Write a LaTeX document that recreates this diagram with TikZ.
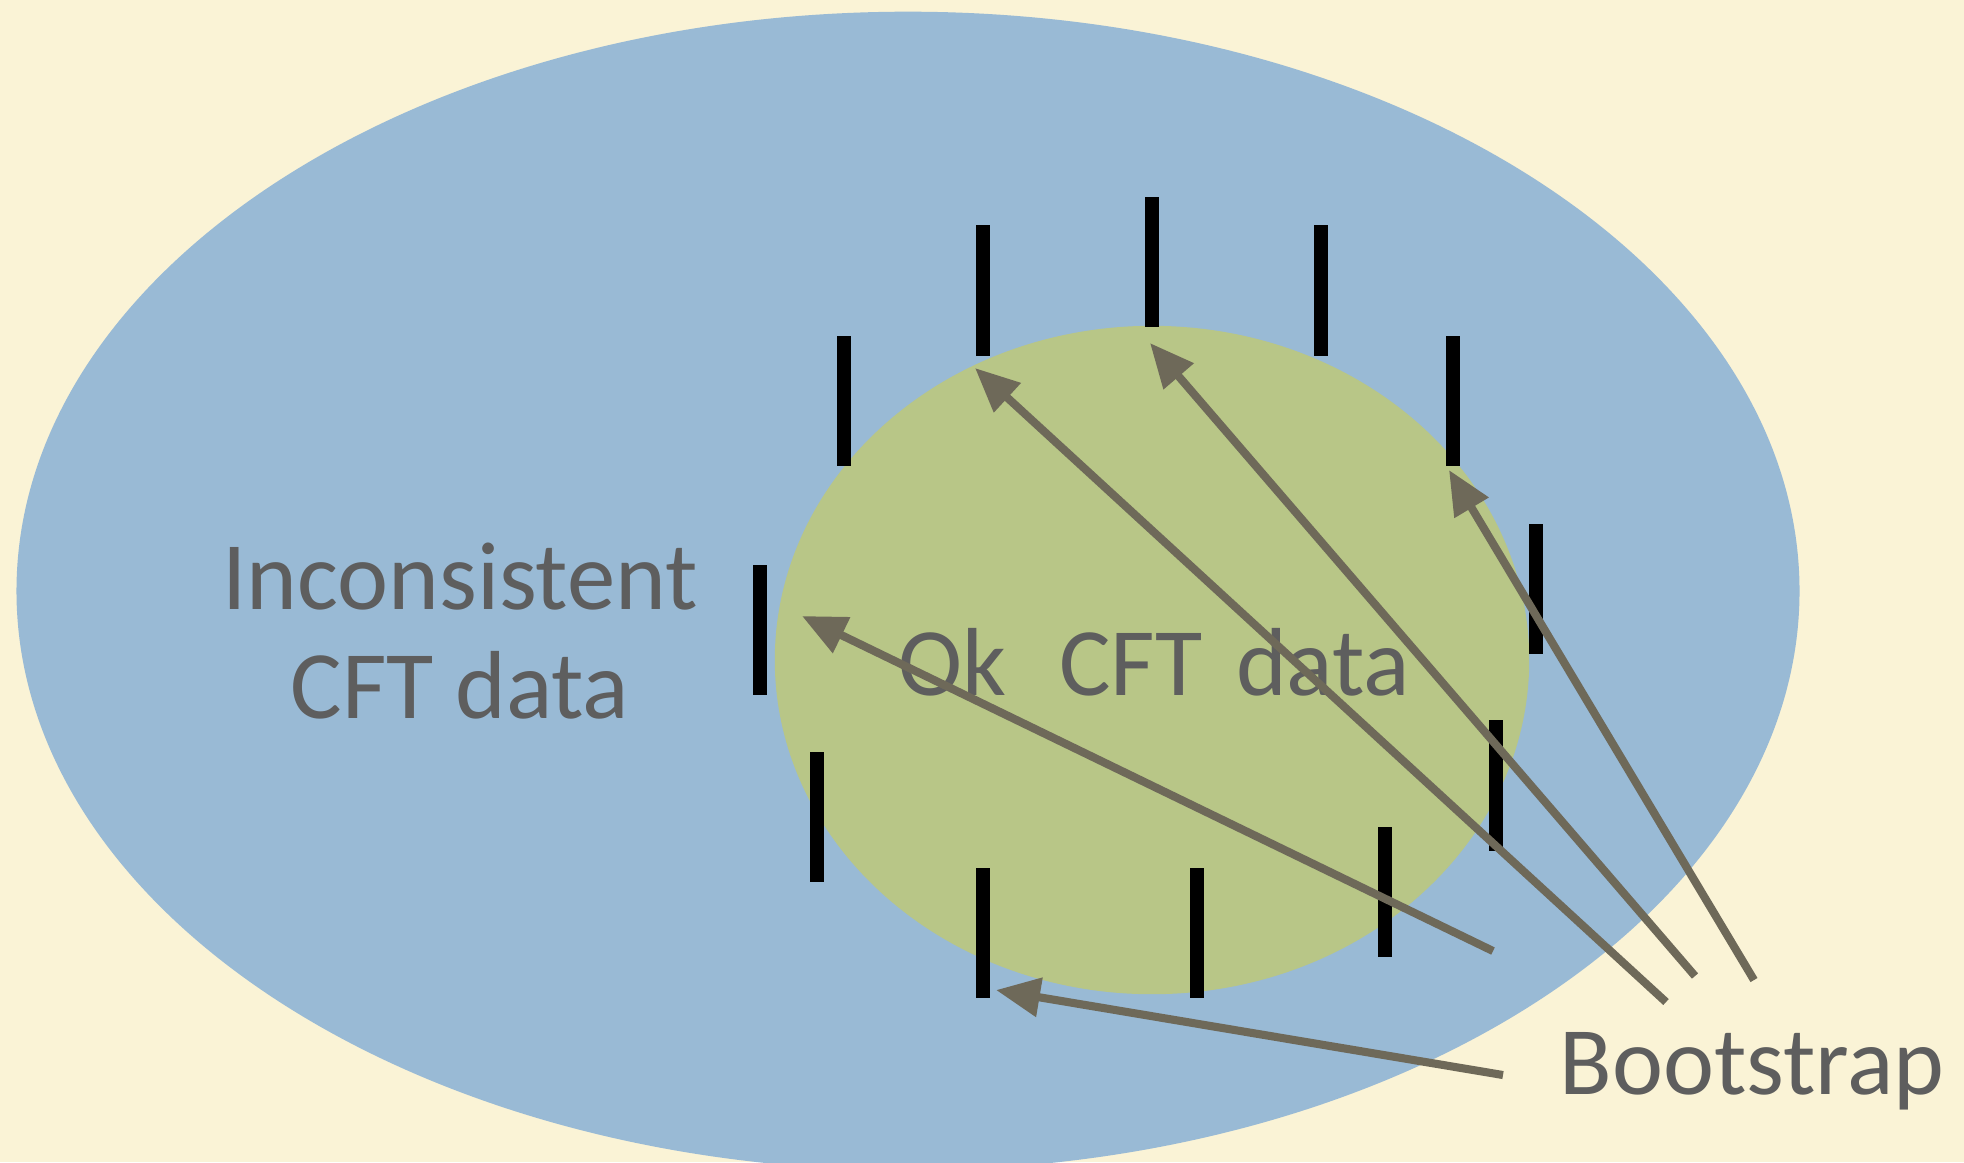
\documentclass[tikz,border=0pt]{standalone}
\usepackage{fontspec}
\setmainfont{Carlito}
\usetikzlibrary{arrows.meta,positioning}

\definecolor{paper}{HTML}{FAF3D6}
\definecolor{allblue}{HTML}{99BAD5}
\definecolor{okgreen}{HTML}{B8C687}
\definecolor{arrowgray}{HTML}{6E6959}
\definecolor{labelgray}{HTML}{5E5E5E}

\begin{document}
\begin{tikzpicture}[
        x=0.01cm, y=-0.01cm,
        >={Triangle[length=0.44cm, width=0.38cm]},
        % Style for the black marks around the disc
        bar/.style={line width=4pt, black},
        % Style for the bootstrap arrows
        boot/.style={->, line width=2.3pt, draw=arrowgray},
        % Style for the grey labels
        lbl/.style={text=labelgray, font=\fontsize{27.5}{31}\selectfont, inner sep=0pt, align=center},
        point/.style={coordinate}
    ]

        % 1. Background and the two regions
        \clip (0,0) rectangle (1964,1162);
        \fill[paper] (0,0) rectangle (1964,1162);
        \fill[allblue] (908,591) ellipse [x radius=8.91cm, y radius=5.79cm];
        \fill[okgreen] (1152,660) ellipse [x radius=3.77cm, y radius=3.34cm];

        % 2. Marks around the green disc
        \draw[bar] (844,336) -- (844,466);
        \draw[bar] (983,225) -- (983,356);
        \draw[bar] (1152,197) -- (1152,327);
        \draw[bar] (1321,225) -- (1321,356);
        \draw[bar] (1453,336) -- (1453,466);
        \draw[bar] (1536,524) -- (1536,654);
        \draw[bar] (1496,720) -- (1496,851);
        \draw[bar] (1385,827) -- (1385,957);
        \draw[bar] (1197,868) -- (1197,998);
        \draw[bar] (983,868) -- (983,998);
        \draw[bar] (817,752) -- (817,882);
        \draw[bar] (760,565) -- (760,695);

        % 3. Labels
        \node[lbl] (incons) at (460,631) {Inconsistent\\CFT data};
        \node[lbl, anchor=base] (ok) at (1154,695) {Ok\hspace{0.55em}CFT\hspace{0.35em}data};
        \node[lbl, anchor=base] (bootstrap) at (1752,1094) {Bootstrap};

        % 4. End points of the arrows
        % tails near the label
        \path (1503,1075) node[point] (b1) {};
        \path (1493,951) node[point] (b2) {};
        \path (1666,1002) node[point] (b3) {};
        \path (1695,976) node[point] (b4) {};
        \path (1754,980) node[point] (b5) {};
        % tips at the marks
        \path (996,990) node[point] (t1) {};
        \path (802,616) node[point] (t2) {};
        \path (975,368) node[point] (t3) {};
        \path (1150,343) node[point] (t4) {};
        \path (1449,470) node[point] (t5) {};

        % 5. Bootstrap arrows
        \draw[boot] (b1) -- (t1);
        \draw[boot] (b2) -- (t2);
        \draw[boot] (b3) -- (t3);
        \draw[boot] (b4) -- (t4);
        \draw[boot] (b5) -- (t5);

    \end{tikzpicture}
\end{document}
